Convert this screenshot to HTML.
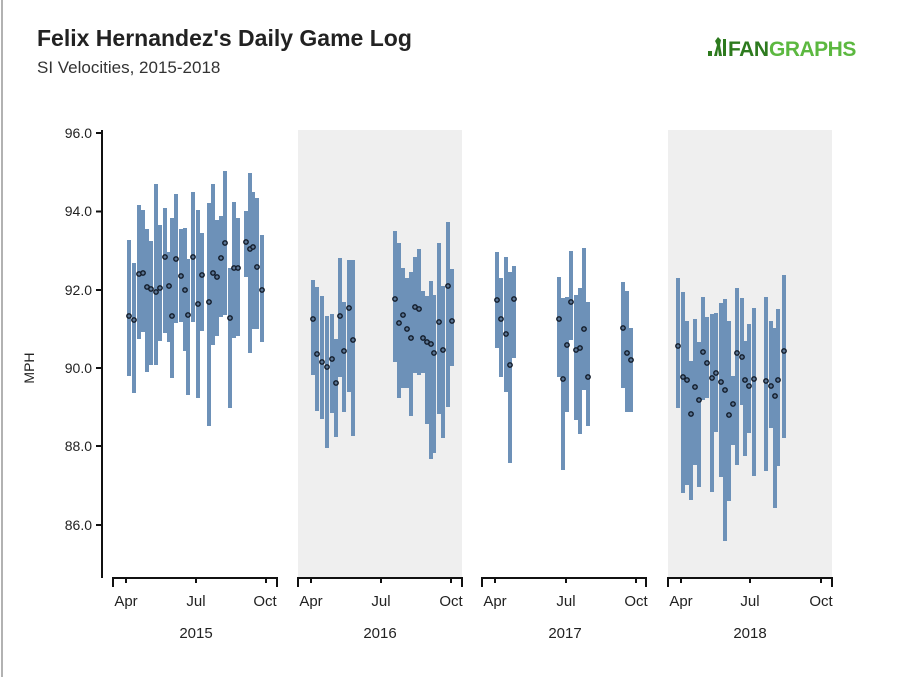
<!DOCTYPE html>
<html><head><meta charset="utf-8"><style>
html,body{margin:0;padding:0;background:#fff;}
svg{display:block;font-family:"Liberation Sans",sans-serif;}
</style></head><body>
<svg width="900" height="677" viewBox="0 0 900 677" xmlns="http://www.w3.org/2000/svg">
<rect width="900" height="677" fill="#fff"/>
<line x1="2" y1="0" x2="2" y2="677" stroke="#999" stroke-width="1.5"/>
<text x="37" y="46" font-size="23" font-weight="bold" fill="#222">Felix Hernandez's Daily Game Log</text>
<text x="37" y="73" font-size="17" fill="#333">SI Velocities, 2015-2018</text>
<g transform="translate(708,37)">
<rect x="0" y="14" width="4" height="5" fill="#2d7a1e"/>
<path d="M6 19 L9 8 L7 4 L10 0 L13 3 L12 8 L14 19 L11 19 L10 12 L9 19Z" fill="#2d7a1e"/>
<rect x="15" y="2" width="3" height="17" fill="#2d7a1e"/>
<text x="20" y="19" font-size="21" font-weight="bold" fill="#2d7a1e" letter-spacing="-0.5">FAN</text>
<text x="61" y="19" font-size="21" font-weight="bold" fill="#5cb840" letter-spacing="-0.5">GRAPHS</text>
</g>
<rect x="298" y="130" width="164" height="448" fill="#efefef"/>
<rect x="668" y="130" width="164" height="448" fill="#efefef"/>
<line x1="102" y1="130" x2="102" y2="578" stroke="#111" stroke-width="2"/>
<g stroke="#111" stroke-width="2">
<line x1="96" y1="133" x2="102" y2="133"/><line x1="96" y1="211.5" x2="102" y2="211.5"/><line x1="96" y1="290" x2="102" y2="290"/><line x1="96" y1="368" x2="102" y2="368"/><line x1="96" y1="446" x2="102" y2="446"/><line x1="96" y1="525" x2="102" y2="525"/>
</g>
<g font-size="14" fill="#222" text-anchor="end">
<text x="92" y="138">96.0</text><text x="92" y="216">94.0</text><text x="92" y="295">92.0</text><text x="92" y="373">90.0</text><text x="92" y="451">88.0</text><text x="92" y="530">86.0</text>
</g>
<text transform="translate(34,368) rotate(-90)" font-size="14" fill="#222" text-anchor="middle">MPH</text>
<g stroke="#111" stroke-width="2" fill="none">
<path d="M113 587 V578 H277 V587"/><path d="M126 578 V583 M196 578 V583 M266 578 V583"/>
<path d="M298 587 V578 H462 V587"/><path d="M311 578 V583 M381 578 V583 M451 578 V583"/>
<path d="M482 587 V578 H646 V587"/><path d="M495 578 V583 M566 578 V583 M636 578 V583"/>
<path d="M668 587 V578 H832 V587"/><path d="M681 578 V583 M750 578 V583 M821 578 V583"/>
</g>
<g font-size="15" fill="#222" text-anchor="middle">
<text x="126" y="606">Apr</text><text x="196" y="606">Jul</text><text x="265" y="606">Oct</text>
<text x="311" y="606">Apr</text><text x="381" y="606">Jul</text><text x="451" y="606">Oct</text>
<text x="495" y="606">Apr</text><text x="566" y="606">Jul</text><text x="636" y="606">Oct</text>
<text x="681" y="606">Apr</text><text x="750" y="606">Jul</text><text x="821" y="606">Oct</text>
<text x="196" y="638">2015</text><text x="380" y="638">2016</text><text x="565" y="638">2017</text><text x="750" y="638">2018</text>
</g>
<g stroke="#6d91b8" stroke-width="4">
<line x1="129" y1="240" x2="129" y2="376"/><line x1="134" y1="263" x2="134" y2="393"/><line x1="139" y1="205" x2="139" y2="339"/><line x1="143" y1="210" x2="143" y2="332"/><line x1="147" y1="229" x2="147" y2="372"/><line x1="151" y1="241" x2="151" y2="365"/><line x1="156" y1="184" x2="156" y2="365"/><line x1="160" y1="225" x2="160" y2="341"/><line x1="165" y1="208" x2="165" y2="333"/><line x1="169" y1="252" x2="169" y2="342"/><line x1="172" y1="218" x2="172" y2="378"/><line x1="176" y1="194" x2="176" y2="323"/><line x1="181" y1="229" x2="181" y2="322"/><line x1="185" y1="228" x2="185" y2="351"/><line x1="188" y1="259" x2="188" y2="395"/><line x1="193" y1="192" x2="193" y2="322"/><line x1="198" y1="210" x2="198" y2="398"/><line x1="202" y1="233" x2="202" y2="331"/><line x1="209" y1="203" x2="209" y2="426"/><line x1="213" y1="184" x2="213" y2="345"/><line x1="217" y1="220" x2="217" y2="336"/><line x1="221" y1="216" x2="221" y2="317"/><line x1="225" y1="171" x2="225" y2="315"/><line x1="230" y1="268" x2="230" y2="408"/><line x1="234" y1="202" x2="234" y2="338"/><line x1="238" y1="218" x2="238" y2="336"/><line x1="246" y1="211" x2="246" y2="277"/><line x1="250" y1="173" x2="250" y2="353"/><line x1="253" y1="192" x2="253" y2="329"/><line x1="257" y1="198" x2="257" y2="329"/><line x1="262" y1="235" x2="262" y2="342"/>
<line x1="313" y1="280" x2="313" y2="375"/><line x1="317" y1="287" x2="317" y2="411"/><line x1="322" y1="296" x2="322" y2="419"/><line x1="327" y1="316" x2="327" y2="448"/><line x1="332" y1="314" x2="332" y2="413"/><line x1="336" y1="339" x2="336" y2="437"/><line x1="340" y1="258" x2="340" y2="377"/><line x1="344" y1="302" x2="344" y2="412"/><line x1="349" y1="260" x2="349" y2="392"/><line x1="353" y1="260" x2="353" y2="436"/>
<line x1="395" y1="231" x2="395" y2="362"/><line x1="399" y1="243" x2="399" y2="398"/><line x1="403" y1="268" x2="403" y2="388"/><line x1="407" y1="278" x2="407" y2="388"/><line x1="411" y1="272" x2="411" y2="416"/><line x1="415" y1="257" x2="415" y2="373"/><line x1="419" y1="249" x2="419" y2="375"/><line x1="423" y1="291" x2="423" y2="373"/><line x1="427" y1="296" x2="427" y2="424"/><line x1="431" y1="281" x2="431" y2="459"/><line x1="434" y1="295" x2="434" y2="453"/><line x1="439" y1="243" x2="439" y2="414"/><line x1="443" y1="286" x2="443" y2="438"/><line x1="448" y1="222" x2="448" y2="407"/><line x1="452" y1="269" x2="452" y2="366"/>
<line x1="497" y1="252" x2="497" y2="348"/><line x1="501" y1="278" x2="501" y2="377"/><line x1="506" y1="257" x2="506" y2="392"/><line x1="510" y1="272" x2="510" y2="463"/><line x1="514" y1="266" x2="514" y2="358"/>
<line x1="559" y1="277" x2="559" y2="377"/><line x1="563" y1="298" x2="563" y2="470"/><line x1="567" y1="297" x2="567" y2="412"/><line x1="571" y1="251" x2="571" y2="340"/><line x1="576" y1="295" x2="576" y2="420"/><line x1="580" y1="288" x2="580" y2="434"/><line x1="584" y1="248" x2="584" y2="390"/><line x1="588" y1="302" x2="588" y2="426"/>
<line x1="623" y1="282" x2="623" y2="388"/><line x1="627" y1="291" x2="627" y2="412"/><line x1="631" y1="328" x2="631" y2="412"/>
<line x1="678" y1="278" x2="678" y2="408"/><line x1="683" y1="292" x2="683" y2="493"/><line x1="687" y1="321" x2="687" y2="485"/><line x1="691" y1="361" x2="691" y2="500"/><line x1="695" y1="319" x2="695" y2="465"/><line x1="699" y1="342" x2="699" y2="487"/><line x1="703" y1="297" x2="703" y2="400"/><line x1="707" y1="317" x2="707" y2="398"/><line x1="712" y1="314" x2="712" y2="492"/><line x1="716" y1="313" x2="716" y2="432"/><line x1="721" y1="303" x2="721" y2="477"/><line x1="725" y1="299" x2="725" y2="541"/><line x1="729" y1="321" x2="729" y2="501"/><line x1="733" y1="376" x2="733" y2="445"/><line x1="737" y1="288" x2="737" y2="465"/><line x1="742" y1="298" x2="742" y2="405"/><line x1="745" y1="341" x2="745" y2="456"/><line x1="749" y1="324" x2="749" y2="433"/><line x1="754" y1="308" x2="754" y2="476"/><line x1="766" y1="297" x2="766" y2="471"/><line x1="771" y1="321" x2="771" y2="428"/><line x1="775" y1="328" x2="775" y2="508"/><line x1="778" y1="309" x2="778" y2="466"/><line x1="784" y1="275" x2="784" y2="438"/>
</g>
<g fill="#5a7594" stroke="#111a28" stroke-width="1.4">
<circle cx="129" cy="316" r="2.2"/><circle cx="134" cy="320" r="2.2"/><circle cx="139" cy="274" r="2.2"/><circle cx="143" cy="273" r="2.2"/><circle cx="147" cy="287" r="2.2"/><circle cx="151" cy="289" r="2.2"/><circle cx="156" cy="292" r="2.2"/><circle cx="160" cy="288" r="2.2"/><circle cx="165" cy="257" r="2.2"/><circle cx="169" cy="286" r="2.2"/><circle cx="172" cy="316" r="2.2"/><circle cx="176" cy="259" r="2.2"/><circle cx="181" cy="276" r="2.2"/><circle cx="185" cy="290" r="2.2"/><circle cx="188" cy="315" r="2.2"/><circle cx="193" cy="257" r="2.2"/><circle cx="198" cy="304" r="2.2"/><circle cx="202" cy="275" r="2.2"/><circle cx="209" cy="302" r="2.2"/><circle cx="213" cy="273" r="2.2"/><circle cx="217" cy="277" r="2.2"/><circle cx="221" cy="258" r="2.2"/><circle cx="225" cy="243" r="2.2"/><circle cx="230" cy="318" r="2.2"/><circle cx="234" cy="268" r="2.2"/><circle cx="238" cy="268" r="2.2"/><circle cx="246" cy="242" r="2.2"/><circle cx="250" cy="249" r="2.2"/><circle cx="253" cy="247" r="2.2"/><circle cx="257" cy="267" r="2.2"/><circle cx="262" cy="290" r="2.2"/>
<circle cx="313" cy="319" r="2.2"/><circle cx="317" cy="354" r="2.2"/><circle cx="322" cy="362" r="2.2"/><circle cx="327" cy="367" r="2.2"/><circle cx="332" cy="359" r="2.2"/><circle cx="336" cy="383" r="2.2"/><circle cx="340" cy="316" r="2.2"/><circle cx="344" cy="351" r="2.2"/><circle cx="349" cy="308" r="2.2"/><circle cx="353" cy="340" r="2.2"/>
<circle cx="395" cy="299" r="2.2"/><circle cx="399" cy="323" r="2.2"/><circle cx="403" cy="315" r="2.2"/><circle cx="407" cy="329" r="2.2"/><circle cx="411" cy="338" r="2.2"/><circle cx="415" cy="307" r="2.2"/><circle cx="419" cy="309" r="2.2"/><circle cx="423" cy="338" r="2.2"/><circle cx="427" cy="342" r="2.2"/><circle cx="431" cy="344" r="2.2"/><circle cx="434" cy="353" r="2.2"/><circle cx="439" cy="322" r="2.2"/><circle cx="443" cy="350" r="2.2"/><circle cx="448" cy="286" r="2.2"/><circle cx="452" cy="321" r="2.2"/>
<circle cx="497" cy="300" r="2.2"/><circle cx="501" cy="319" r="2.2"/><circle cx="506" cy="334" r="2.2"/><circle cx="510" cy="365" r="2.2"/><circle cx="514" cy="299" r="2.2"/>
<circle cx="559" cy="319" r="2.2"/><circle cx="563" cy="379" r="2.2"/><circle cx="567" cy="345" r="2.2"/><circle cx="571" cy="302" r="2.2"/><circle cx="576" cy="350" r="2.2"/><circle cx="580" cy="348" r="2.2"/><circle cx="584" cy="329" r="2.2"/><circle cx="588" cy="377" r="2.2"/>
<circle cx="623" cy="328" r="2.2"/><circle cx="627" cy="353" r="2.2"/><circle cx="631" cy="360" r="2.2"/>
<circle cx="678" cy="346" r="2.2"/><circle cx="683" cy="377" r="2.2"/><circle cx="687" cy="380" r="2.2"/><circle cx="691" cy="414" r="2.2"/><circle cx="695" cy="387" r="2.2"/><circle cx="699" cy="400" r="2.2"/><circle cx="703" cy="352" r="2.2"/><circle cx="707" cy="363" r="2.2"/><circle cx="712" cy="378" r="2.2"/><circle cx="716" cy="373" r="2.2"/><circle cx="721" cy="382" r="2.2"/><circle cx="725" cy="390" r="2.2"/><circle cx="729" cy="415" r="2.2"/><circle cx="733" cy="404" r="2.2"/><circle cx="737" cy="353" r="2.2"/><circle cx="742" cy="357" r="2.2"/><circle cx="745" cy="380" r="2.2"/><circle cx="749" cy="386" r="2.2"/><circle cx="754" cy="379" r="2.2"/><circle cx="766" cy="381" r="2.2"/><circle cx="771" cy="386" r="2.2"/><circle cx="775" cy="396" r="2.2"/><circle cx="778" cy="380" r="2.2"/><circle cx="784" cy="351" r="2.2"/>
</g>
</svg>
</body></html>
